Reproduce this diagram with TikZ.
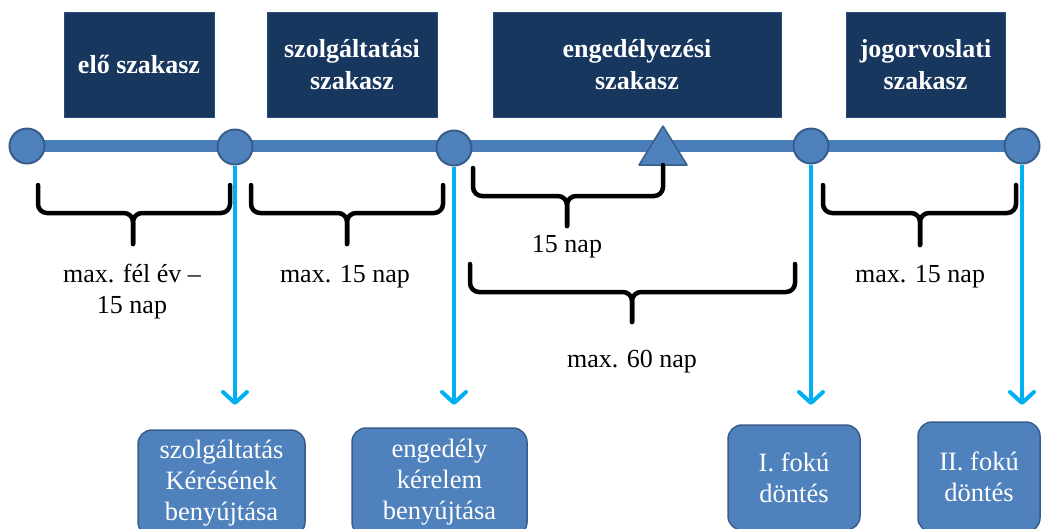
\documentclass[tikz,border=0pt]{standalone}
\usepackage{fontspec}
\setmainfont{Liberation Serif}
\usetikzlibrary{arrows.meta}
\definecolor{navy}{HTML}{17375E}
\definecolor{navyb}{HTML}{2B4C7A}
\definecolor{tl}{HTML}{4A7EBB}
\definecolor{cfill}{HTML}{4F81BD}
\definecolor{cbord}{HTML}{385D8A}
\definecolor{cyanarr}{HTML}{00B0F0}
\begin{document}
\begin{tikzpicture}[x=1pt,y=-1pt,
  phase/.style={draw=navyb,line width=1pt,fill=navy,text=white,font=\fontsize{26}{32}\selectfont\bfseries,align=center,inner sep=0pt,minimum height=105pt},
  dot/.style={circle,draw=cbord,line width=2pt,fill=cfill,minimum size=35pt,inner sep=0pt},
  result/.style={draw=cbord,line width=1.5pt,fill=cfill,rounded corners=14pt,text=white,font=\fontsize{26.5}{31}\selectfont,align=center,inner sep=0pt},
  brace/.style={line width=4.5pt,rounded corners=9pt,line cap=round,black},
  lab/.style={font=\fontsize{26}{31}\selectfont,align=center,inner sep=0pt},
  down/.style={cyanarr,line width=4pt,-{Straight Barb[length=11pt,width=24pt,line width=4pt,round]}}
]
\useasboundingbox (0,0) rectangle (1043,528);
\clip (0,0) rectangle (1043,528);
% phase boxes
\node[phase,minimum width=150pt] (p1) at (139,64.5) {elő szakasz};
\node[phase,minimum width=170pt] (p2) at (352,64.5) {szolgáltatási\\szakasz};
\node[phase,minimum width=288pt] (p3) at (637,64.5) {engedélyezési\\szakasz};
\node[phase,minimum width=159pt] (p4) at (925.5,64.5) {jogorvoslati\\szakasz};
% timeline
\coordinate (t0) at (27,146);
\coordinate (t5) at (1022,146);
\draw[tl,line width=12pt] (t0) -- (t5);
\node[dot] (c1) at (27,146) {};
\node[dot] (c2) at (235,147) {};
\node[dot] (c3) at (454,148) {};
\node[dot] (c4) at (811,146) {};
\node[dot] (c5) at (1022,146) {};
\draw[cbord,line width=1.5pt,fill=cfill,line join=round] (663,126) -- (687,165) -- (639,165) -- cycle;
\coordinate (tri) at (663,165);
% result boxes
\node[result,minimum width=167pt,minimum height=106pt] (r1) at (221.5,483) {szolgáltatás\\Kérésének\\benyújtása};
\node[result,minimum width=175pt,minimum height=108pt] (r2) at (439.5,482) {engedély\\kérelem\\benyújtása};
\node[result,minimum width=132pt,minimum height=105pt] (r3) at (794,477.5) {I. fokú\\döntés};
\node[result,minimum width=122pt,minimum height=110pt] (r4) at (979,477) {II. fokú\\döntés};
% arrows
\coordinate (ay) at (0,405);
\draw[down] (c2.south) -- (c2.south |- ay);
\draw[down] (c3.south) -- (c3.south |- ay);
\draw[down] (c4.south) -- (c4.south |- ay);
\draw[down] (c5.south) -- (c5.south |- ay);
% braces
\draw[brace] (38,185) -- (38,213) -- (133,213) -- (133,244);
\draw[brace] (230,185) -- (230,213) -- (133,213) -- (133,244);
\draw[brace] (251,185) -- (251,213) -- (347,213) -- (347,244);
\draw[brace] (443,185) -- (443,213) -- (347,213) -- (347,244);
\draw[brace] (473,168) -- (473,196) -- (567,196) -- (567,226);
\draw[brace] (tri) -- (663,196) -- (567,196) -- (567,226);
\draw[brace] (470,264) -- (470,292) -- (632,292) -- (632,322);
\draw[brace] (795,264) -- (795,292) -- (632,292) -- (632,322);
\draw[brace] (823,185) -- (823,213) -- (920,213) -- (920,245);
\draw[brace] (1016,185) -- (1016,213) -- (920,213) -- (920,245);
% labels
\node[lab] (l1) at (132,292) {max. fél év --\\15 nap};
\node[lab] (l2) at (345,277) {max. 15 nap};
\node[lab] (l3) at (567,247) {15 nap};
\node[lab] (l4) at (632,362) {max. 60 nap};
\node[lab] (l5) at (920,277) {max. 15 nap};
\end{tikzpicture}
\end{document}
